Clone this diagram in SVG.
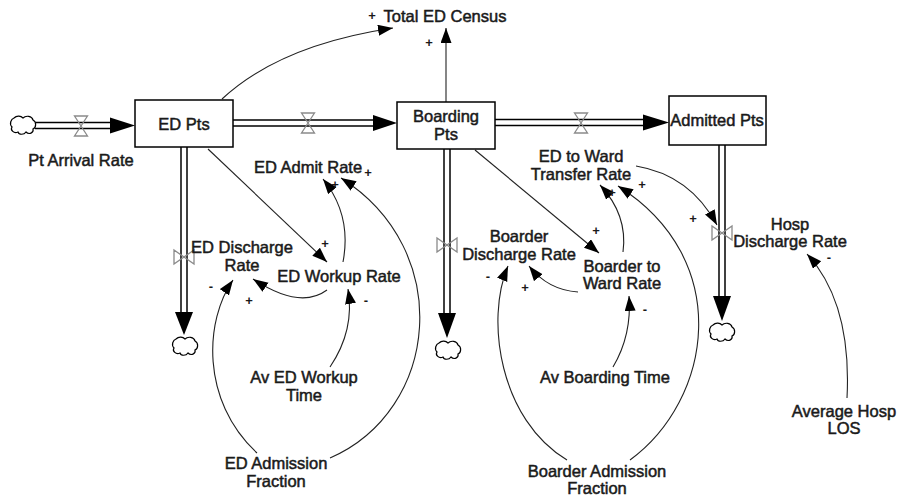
<svg xmlns="http://www.w3.org/2000/svg" width="900" height="496" viewBox="0 0 900 496">
<defs>
<style>
text { font-family: "Liberation Sans", Arial, sans-serif; font-size: 16.5px; fill: #1a1a1a; text-anchor: middle; stroke: #1a1a1a; stroke-width: 0.5; }
.pol { font-size: 13px; font-weight: bold; stroke: none; }
.box { fill: #fff; stroke: #000; stroke-width: 1.5; }
.pipeo { fill: none; stroke: #000; stroke-width: 7.5; }
.pipei { fill: none; stroke: #fff; stroke-width: 4.5; }
.valve { fill: none; stroke: #8a8a8a; stroke-width: 1.3; }
.link { fill: none; stroke: #222; stroke-width: 1.1; marker-end: url(#ah); }
.cloud { fill: #fff; stroke: #000; stroke-width: 1.2; }
.head { fill: #000; }
</style>
<marker id="ah" markerUnits="userSpaceOnUse" markerWidth="16" markerHeight="12" refX="15" refY="5.5" orient="auto"><path d="M0,0 L15,5.5 L0,11 Z" fill="#000"/></marker>
<path id="cloud" d="M-9,-7 C-6,-10 -2,-9 0,-7 C3,-10 9,-9 10,-5 C14,-3 13,3 10,4 C11,8 6,10 3,7 C1,10 -4,10 -5,7 C-9,9 -13,5 -11,2 C-14,-1 -12,-6 -9,-7 Z"/>
</defs>
<rect width="900" height="496" fill="#fff"/>

<g id="flows">
  <path class="pipeo" d="M35,125.5 H112"/><path class="pipei" d="M35,125.5 H112"/>
  <polygon class="head" points="110,117.5 135,125.5 110,133.5"/>
  <path class="pipeo" d="M233,123 H376"/><path class="pipei" d="M233,123 H376"/>
  <polygon class="head" points="373,115 397,123 373,131"/>
  <path class="pipeo" d="M495,122.5 H645"/><path class="pipei" d="M495,122.5 H645"/>
  <polygon class="head" points="643,114.5 669,122.5 643,130.5"/>
  <path class="pipeo" d="M184,147 V314"/><path class="pipei" d="M184,147 V314"/>
  <polygon class="head" points="175,312 193,312 184,335"/>
  <path class="pipeo" d="M447,149 V315"/><path class="pipei" d="M447,149 V315"/>
  <polygon class="head" points="438,313 456,313 447,338"/>
  <path class="pipeo" d="M722,145 V298"/><path class="pipei" d="M722,145 V298"/>
  <polygon class="head" points="713,296 731,296 722,321"/>
  <use href="#cloud" class="cloud" x="23" y="125"/>
  <use href="#cloud" class="cloud" x="185" y="346"/>
  <use href="#cloud" class="cloud" x="448" y="350"/>
  <use href="#cloud" class="cloud" x="722" y="332"/>
</g>

<g id="connectors">
  <path class="link" d="M222,99 Q280,45 393,28"/>
  <path class="link" d="M446,102 V28"/>
  <path class="link" d="M208,149 L327,262"/>
  <path class="link" d="M343,262 Q352,215 323,179"/>
  <path class="link" d="M330,458 C440,410 455,250 341,178"/>
  <path class="link" d="M327,290 Q300,310 253,279"/>
  <path class="link" d="M257,453 C200,400 205,320 233,280"/>
  <path class="link" d="M330,367 Q355,330 348,289"/>
  <path class="link" d="M475,150 L599,253"/>
  <path class="link" d="M623,252 Q628,215 600,185"/>
  <path class="link" d="M578,292 Q548,290 529,266"/>
  <path class="link" d="M630,460 C712,400 735,260 618,186"/>
  <path class="link" d="M567,460 C500,420 485,320 508,266"/>
  <path class="link" d="M613,367 Q632,335 629,296"/>
  <path class="link" d="M636,166 Q690,175 717,225"/>
  <path class="link" d="M847,398 C850,340 840,290 807,254"/>
  <text class="pol" x="372" y="20">+</text>
  <text class="pol" x="429" y="47">+</text>
  <text class="pol" x="325" y="248">+</text>
  <text class="pol" x="249" y="305">+</text>
  <text class="pol" x="211" y="291">-</text>
  <text class="pol" x="366" y="305">-</text>
  <text class="pol" x="335" y="189">+</text>
  <text class="pol" x="368" y="177">+</text>
  <text class="pol" x="596" y="235">+</text>
  <text class="pol" x="525" y="292">+</text>
  <text class="pol" x="488" y="281">-</text>
  <text class="pol" x="645" y="314">-</text>
  <text class="pol" x="612" y="197">+</text>
  <text class="pol" x="642" y="189">+</text>
  <text class="pol" x="693" y="223">+</text>
  <text class="pol" x="829" y="262">-</text>
</g>

<g id="valve-pt-arrival-rate">
  <path class="valve" d="M74.5,116 H87.5 L74.5,136 H87.5 Z"/>
  <text x="81" y="166">Pt Arrival Rate</text>
</g>
<g id="valve-ed-admit-rate">
  <path class="valve" d="M301.5,113 H314.5 L301.5,133 H314.5 Z"/>
  <text x="308" y="173">ED Admit Rate</text>
</g>
<g id="valve-ed-to-ward-transfer-rate">
  <path class="valve" d="M574.5,113 H587.5 L574.5,133 H587.5 Z"/>
  <text x="581" y="162">ED to Ward</text>
  <text x="581" y="180">Transfer Rate</text>
</g>
<g id="valve-ed-discharge-rate">
  <path class="valve" d="M174,250 V264 L194,250 V264 Z"/>
  <text x="242" y="253">ED Discharge</text>
  <text x="242" y="271">Rate</text>
</g>
<g id="valve-boarder-discharge-rate">
  <path class="valve" d="M437,238 V252 L457,238 V252 Z"/>
  <text x="519" y="242">Boarder</text>
  <text x="519" y="260">Discharge Rate</text>
</g>
<g id="valve-hosp-discharge-rate">
  <path class="valve" d="M712,226 V240 L732,226 V240 Z"/>
  <text x="790" y="230">Hosp</text>
  <text x="790" y="247">Discharge Rate</text>
</g>

<g id="stock-ed-pts">
  <rect class="box" x="135" y="100" width="98" height="47"/>
  <text x="184" y="130">ED Pts</text>
</g>
<g id="stock-boarding-pts">
  <rect class="box" x="397" y="102" width="98" height="47"/>
  <text x="446" y="122">Boarding</text>
  <text x="446" y="140">Pts</text>
</g>
<g id="stock-admitted-pts">
  <rect class="box" x="669" y="96" width="97" height="49"/>
  <text x="717" y="126">Admitted Pts</text>
</g>

<g id="total-ed-census"><text x="445" y="22">Total ED Census</text></g>
<g id="ed-workup-rate"><text x="339" y="282">ED Workup Rate</text></g>
<g id="av-ed-workup-time"><text x="304" y="383">Av ED Workup</text><text x="304" y="401">Time</text></g>
<g id="ed-admission-fraction"><text x="276" y="469">ED Admission</text><text x="276" y="487">Fraction</text></g>
<g id="boarder-to-ward-rate"><text x="622" y="272">Boarder to</text><text x="622" y="289">Ward Rate</text></g>
<g id="av-boarding-time"><text x="605" y="383">Av Boarding Time</text></g>
<g id="boarder-admission-fraction"><text x="597" y="477">Boarder Admission</text><text x="597" y="494">Fraction</text></g>
<g id="average-hosp-los"><text x="844" y="417">Average Hosp</text><text x="844" y="434">LOS</text></g>
</svg>
